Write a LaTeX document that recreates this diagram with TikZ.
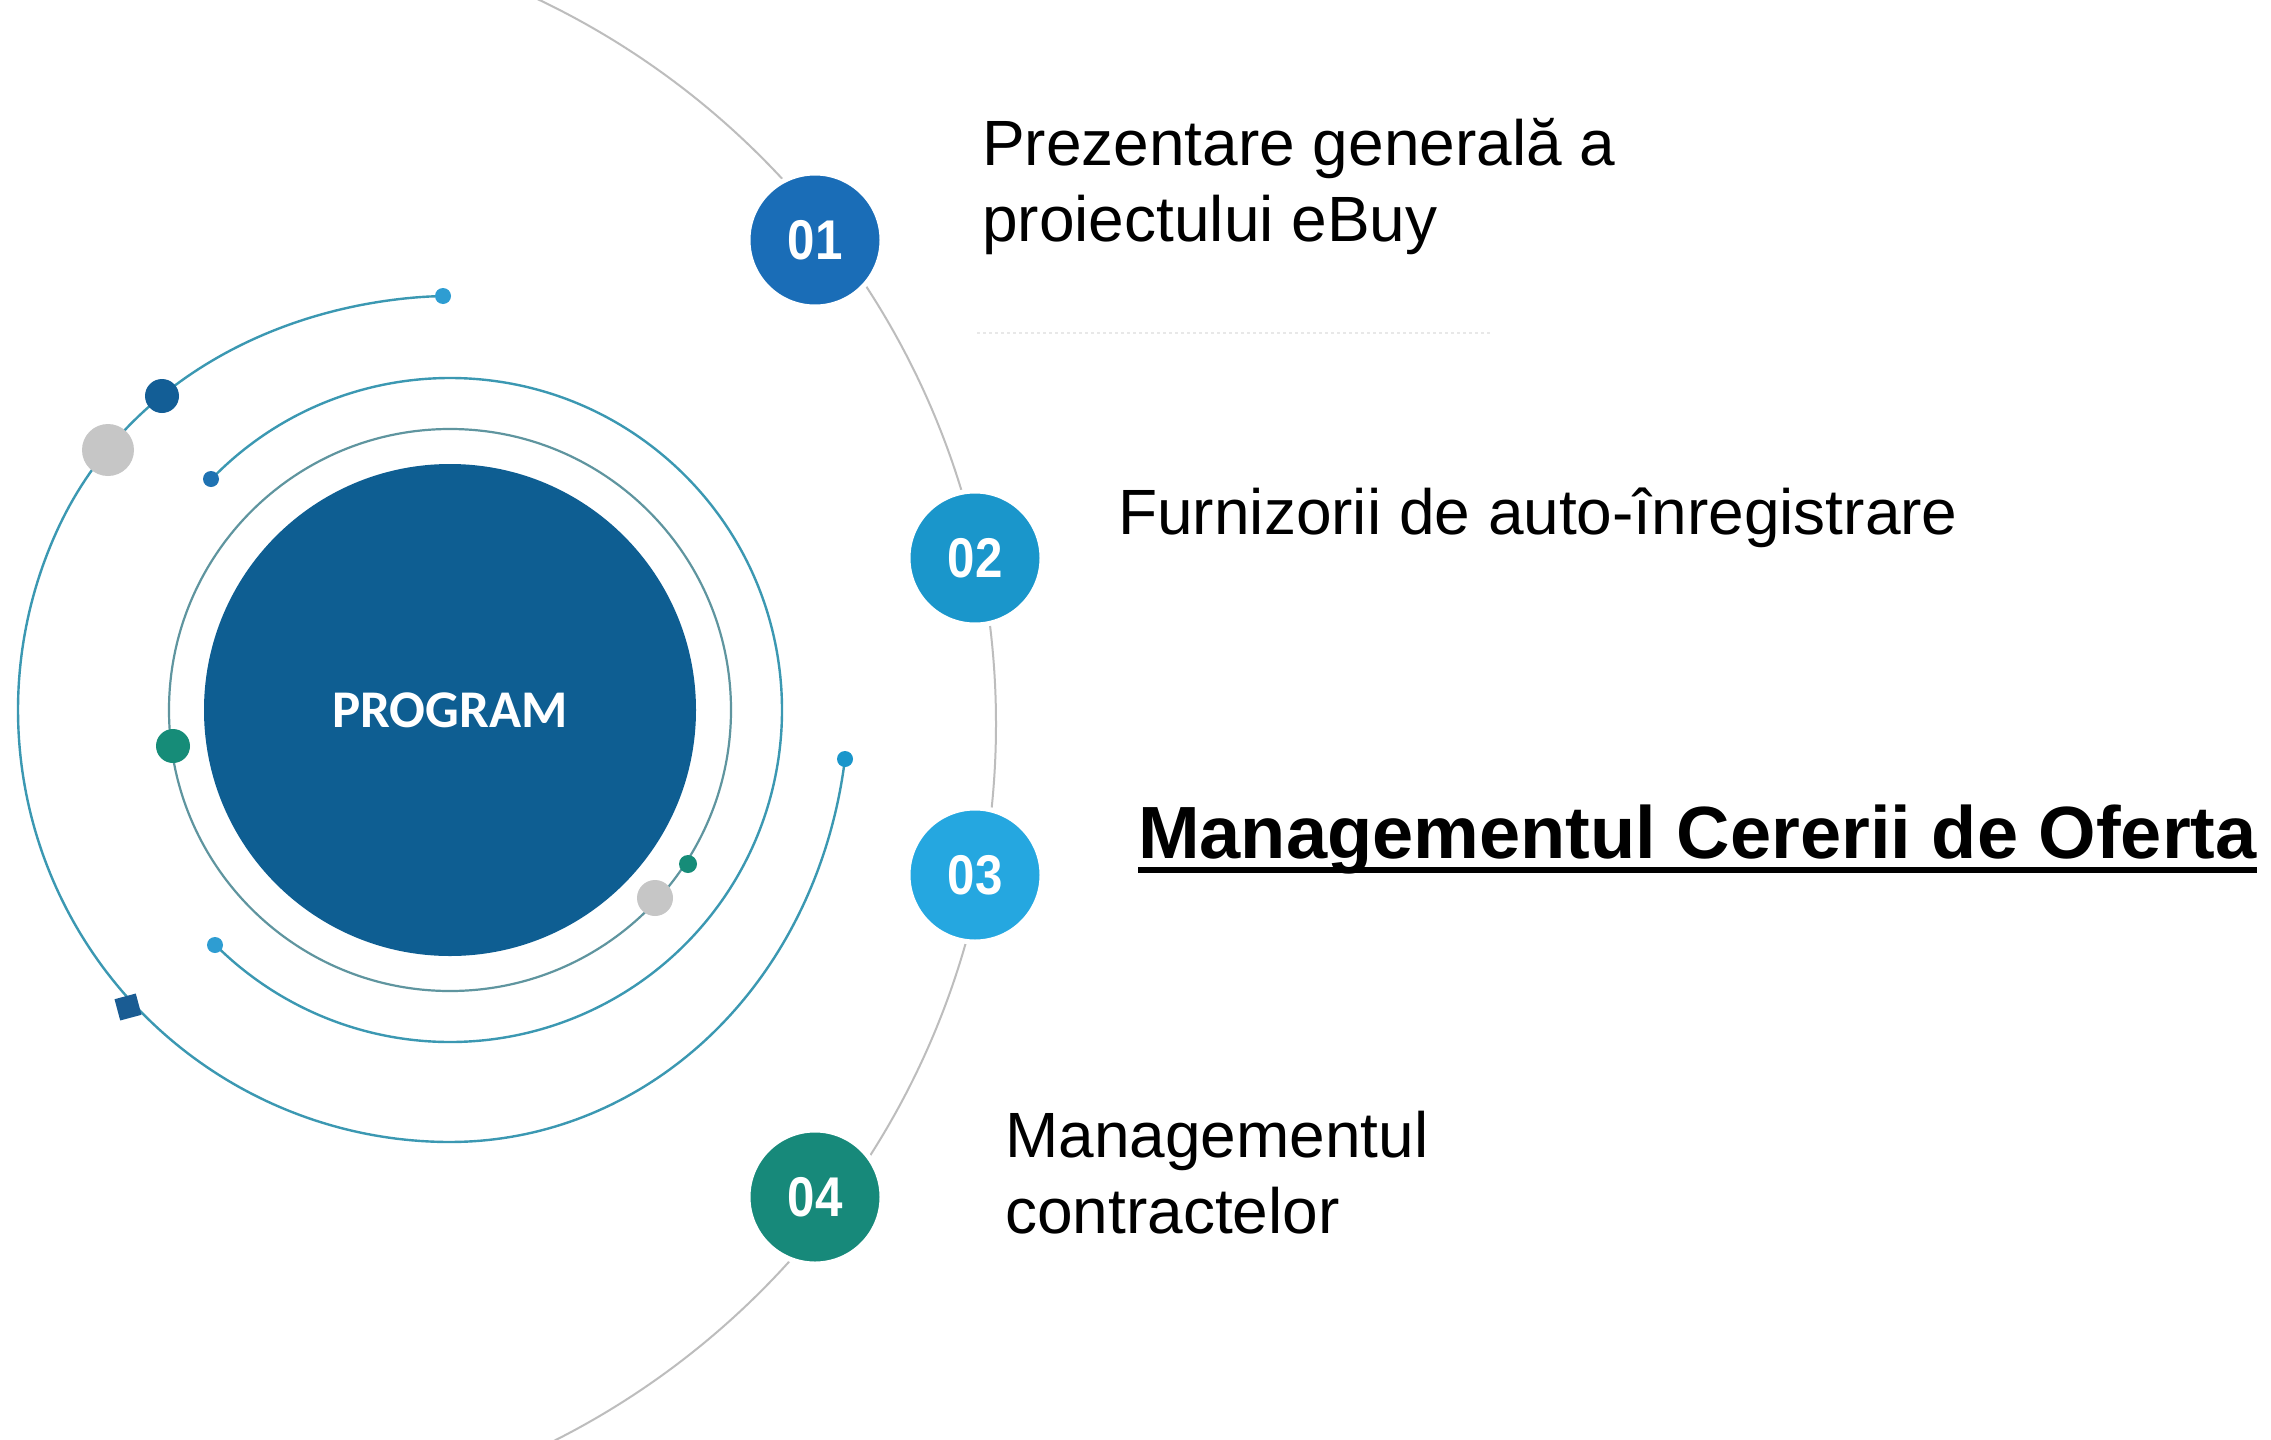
\documentclass[tikz,border=0pt]{standalone}
\usepackage{fontspec}
\setmainfont{Liberation Sans}
\newfontfamily\carlito{Carlito}
\usepackage{graphicx}
\definecolor{cMain}{HTML}{0E5E92}
\definecolor{cOne}{HTML}{1A6DB7}
\definecolor{cTwo}{HTML}{1A96CB}
\definecolor{cThree}{HTML}{25A7E0}
\definecolor{cFour}{HTML}{17897A}
\definecolor{cRing}{HTML}{3B98B2}
\definecolor{cRingIn}{HTML}{5F959F}
\definecolor{cArc}{HTML}{BDBDBD}
\definecolor{cGrayDot}{HTML}{C6C6C6}
\definecolor{cDarkDot}{HTML}{135E96}
\definecolor{cGreenDot}{HTML}{168C78}
\definecolor{cLightDot}{HTML}{2E9DD2}
\definecolor{cMidDot}{HTML}{1F72B2}
\definecolor{cSq}{HTML}{1A5C93}
\begin{document}
\begin{tikzpicture}[x=1pt,y=-1pt,
  declare function={rsp(\a)=432-9*(1-cos(180*min(1,max(0,(\a-205)/60))))-17*(1-cos(180*min(1,max(0,(90-\a)/83))));},
  ringline/.style={draw=cRing, line width=2.4pt},
  ringinner/.style={draw=cRingIn, line width=2.2pt},
  arcline/.style={draw=cArc, line width=2pt},
  dotnode/.style={circle, inner sep=0pt, minimum size=#1},
  numc/.style={circle, inner sep=0pt, minimum size=134pt, draw=white, line width=5pt,
    text=white, font=\bfseries\fontsize{56}{60}\selectfont},
  itemtext/.style={anchor=base west, inner sep=0pt, font=\fontsize{64}{77}\selectfont},
]
\useasboundingbox (0,0) rectangle (2271,1440);
\fill[white] (0,0) rectangle (2271,1440);
\clip (0,0) rectangle (2271,1440);

% large gray arc through the numbered circles
\draw[arcline] (194,724) circle[radius=802];

% faint dotted rule under the first item
\coordinate (r1) at (977,333);
\coordinate (r2) at (1490,333);
\draw[gray!18, line width=2pt, dash pattern=on 3pt off 3pt] (r1) -- (r2);

% inner ring
\draw[ringinner] (450,710) circle[radius=281];
% middle ring (gap on the left)
\draw[ringline] (450,710) ++(224:332) arc[start angle=224, end angle=495, radius=332];
% outer spiral ring
\draw[ringline] plot[domain=7:269, samples=260, variable=\a]
  ({450+rsp(\a)*cos(\a)}, {710+rsp(\a)*sin(\a)});

% dots on the rings
\node[dotnode=16pt, fill=cLightDot] (d1) at (443,296) {};
\node[dotnode=34pt, fill=cDarkDot] (d2) at (162,396) {};
\node[dotnode=52pt, fill=cGrayDot] (d3) at (108,450) {};
\node[dotnode=16pt, fill=cMidDot] (d4) at (211,479) {};
\node[dotnode=34pt, fill=cGreenDot] (d5) at (173,746) {};
\node[dotnode=16pt, fill=cLightDot] (d6) at (215,945) {};
\node[rectangle, inner sep=0pt, minimum size=22pt, fill=cSq, rotate=15] (sq) at (128,1007) {};
\node[dotnode=36pt, fill=cGrayDot] (d7) at (655,898) {};
\node[dotnode=18pt, fill=cGreenDot] (d8) at (688,864) {};
\node[dotnode=16pt, fill=cTwo] (d9) at (845,759) {};

% central circle
\node[circle, inner sep=0pt, minimum size=492pt, fill=cMain, text=white,
  font=\carlito\bfseries\fontsize{53}{60}\selectfont] (prog) at (450,710) {PROGRAM};

% numbered circles
\node[numc, fill=cOne] (n1) at (815,240) {\scalebox{0.88}[1]{01}};
\node[numc, fill=cTwo] (n2) at (975,558) {\scalebox{0.88}[1]{02}};
\node[numc, fill=cThree] (n3) at (975,875) {\scalebox{0.88}[1]{03}};
\node[numc, fill=cFour] (n4) at (815,1197) {\scalebox{0.88}[1]{04}};

% item texts
\node[itemtext] (t1a) at (982,165) {Prezentare generală a};
\node[itemtext] (t1b) at (982,241) {proiectului eBuy};
\node[itemtext] (t2) at (1118,534) {Furnizorii de auto-înregistrare};
\node[anchor=base west, inner sep=0pt, font=\bfseries\fontsize{74}{80}\selectfont] (t3) at (1138,858) {Managementul Cererii de Oferta};
\draw[line width=6pt] ([yshift=-12pt]t3.base west) -- ([yshift=-12pt]t3.base east);
\node[itemtext] (t4a) at (1005,1157) {Managementul};
\node[itemtext] (t4b) at (1005,1233) {contractelor};
\end{tikzpicture}
\end{document}
